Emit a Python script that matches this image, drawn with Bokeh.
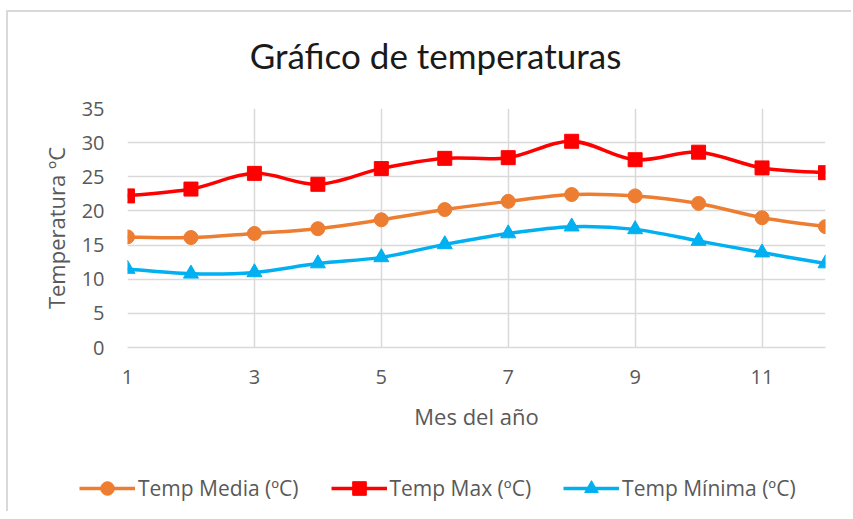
from bokeh.plotting import figure
from bokeh.layouts import column
from bokeh.models import ColumnDataSource, Legend, LegendItem, FixedTicker, Range1d, Label
from bokeh.embed import file_html
from bokeh.resources import INLINE

# ---- data ----
months = [1, 2, 3, 4, 5, 6, 7, 8, 9, 10, 11, 12]
temp_media = [16.2, 16.1, 16.7, 17.4, 18.7, 20.2, 21.4, 22.4, 22.2, 21.1, 19.0, 17.7]
temp_max = [22.2, 23.2, 25.5, 23.9, 26.2, 27.7, 27.8, 30.2, 27.5, 28.6, 26.3, 25.6]
temp_min = [11.5, 10.8, 11.0, 12.3, 13.2, 15.1, 16.7, 17.7, 17.3, 15.6, 13.9, 12.3]
x_ticks = [1, 3, 5, 7, 9, 11]
y_ticks = [0, 5, 10, 15, 20, 25, 30, 35]
chart_title = "Gráfico de temperaturas"

series = [
    ("Temp Media (ºC)", temp_media, "#ED7D31", "circle"),
    ("Temp Max (ºC)", temp_max, "#FF0000", "square"),
    ("Temp Mínima (ºC)", temp_min, "#00B0F0", "triangle"),
]

FONT = "Open Sans"
GRAY = "#595959"
W = 843


def smooth_segments(xs, ys):
    """Catmull-Rom style Bezier control points (like Excel's smoothed line)."""
    n = len(xs)
    d = dict(x0=[], y0=[], x1=[], y1=[], cx0=[], cy0=[], cx1=[], cy1=[])
    for i in range(n - 1):
        a = i - 1 if i > 0 else i
        b = i + 2 if i + 2 < n else i + 1
        d["x0"].append(xs[i]); d["y0"].append(ys[i])
        d["x1"].append(xs[i + 1]); d["y1"].append(ys[i + 1])
        d["cx0"].append(xs[i] + (xs[i + 1] - xs[a]) / 6.0)
        d["cy0"].append(ys[i] + (ys[i + 1] - ys[a]) / 6.0)
        d["cx1"].append(xs[i + 1] - (xs[b] - xs[i]) / 6.0)
        d["cy1"].append(ys[i + 1] - (ys[b] - ys[i]) / 6.0)
    return d


def strip(height):
    f = figure(width=W, height=height, output_backend="svg", toolbar_location=None,
               x_range=Range1d(100, 200), y_range=Range1d(100, 200),
               x_axis_type=None, y_axis_type=None,
               min_border_left=0, min_border_right=0, min_border_top=0, min_border_bottom=0)
    f.frame_align = False
    f.outline_line_color = None
    f.xgrid.visible = False
    f.ygrid.visible = False
    f.border_fill_color = "white"
    f.background_fill_color = "white"
    return f


# ---- title strip ----
tfig = strip(80)
tfig.add_layout(Label(x=427, y=38, x_units="screen", y_units="screen", text=chart_title,
                      text_font="Lato", text_font_size="35px", text_color="#1a1a1a",
                      text_align="center", text_baseline="middle"))

# ---- main chart ----
p = figure(width=W, height=353, output_backend="svg", toolbar_location=None,
           x_range=Range1d(1, 12), y_range=Range1d(0, 35),
           min_border_left=119, min_border_right=W - 119 - 698, min_border_top=16,
           min_border_bottom=98)
p.outline_line_color = None
p.background_fill_color = "white"
p.border_fill_color = "white"

p.xgrid.ticker = FixedTicker(ticks=x_ticks)
p.ygrid.ticker = FixedTicker(ticks=y_ticks)
for g in (p.xgrid, p.ygrid):
    g.grid_line_color = "#d9d9d9"
    g.grid_line_width = 1.5

p.xaxis.ticker = FixedTicker(ticks=x_ticks)
p.yaxis.ticker = FixedTicker(ticks=y_ticks)
for ax in (p.xaxis, p.yaxis):
    ax.major_tick_line_color = None
    ax.minor_tick_line_color = None
    ax.major_tick_out = 0
    ax.major_tick_in = 0
    ax.major_label_text_font = FONT
    ax.major_label_text_font_size = "20px"
    ax.major_label_text_color = GRAY
    ax.axis_label_text_font = FONT
    ax.axis_label_text_font_size = "22px"
    ax.axis_label_text_color = GRAY
    ax.axis_label_text_font_style = "normal"
p.xaxis.axis_line_color = "#d9d9d9"
p.xaxis.axis_line_width = 1.5
p.yaxis.axis_line_color = None
p.xaxis.axis_label = "Mes del año"
p.yaxis.axis_label = "Temperatura ºC"
p.xaxis.major_label_standoff = 22
p.xaxis.axis_label_standoff = 14
p.yaxis.major_label_standoff = 23
p.yaxis.axis_label_standoff = 8

# ---- legend strip ----
leg = strip(66)

items = []
for name, vals, color, marker in series:
    src = ColumnDataSource(smooth_segments(months, vals))
    p.bezier(x0="x0", y0="y0", x1="x1", y1="y1", cx0="cx0", cy0="cy0",
             cx1="cx1", cy1="cy1", source=src, line_color=color, line_width=3.5)
    size = 14 if marker != "triangle" else 15
    p.scatter(months, vals, marker=marker, size=size, fill_color=color, line_color=color)
    # legend proxies (same data, outside the strip's visible range)
    l_line = leg.line(months, vals, line_color=color, line_width=3.5)
    l_pts = leg.scatter(months, vals, marker=marker, size=size, fill_color=color, line_color=color)
    items.append(LegendItem(label=name, renderers=[l_line, l_pts]))

legend = Legend(items=items, orientation="horizontal", location=(71, 6),
                label_text_font=FONT, label_text_font_size="21px", label_text_color=GRAY,
                glyph_width=56, glyph_height=34, spacing=32, label_standoff=3,
                padding=0, margin=0, border_line_alpha=0, background_fill_alpha=0)
leg.add_layout(legend)

layout = column(tfig, p, leg, spacing=0, margin=(10, 0, 0, 6),
                styles={"border-left": "2px solid #d9d9d9", "border-top": "2px solid #d9d9d9"})
open("out.html", "w").write(file_html(layout, INLINE))
